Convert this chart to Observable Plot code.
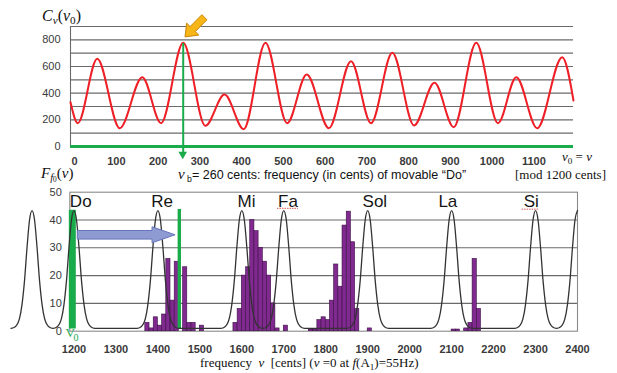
<!DOCTYPE html>
<html><head><meta charset="utf-8">
<script src="https://cdn.jsdelivr.net/npm/d3@7"></script>
<script src="https://cdn.jsdelivr.net/npm/@observablehq/plot@0.6"></script>
<style>
body{margin:0;background:#fff;}
#wrap{position:relative;width:617px;height:373px;overflow:hidden;font-family:"Liberation Sans",Arial,sans-serif;color:#111;}
#wrap svg{position:absolute;left:0;overflow:visible;}
.lbl{position:absolute;white-space:nowrap;line-height:1;}
.math{font-family:"Liberation Serif","Times New Roman",serif;}
sub{font-size:70%;vertical-align:-0.3em;line-height:0;}
sub sub{vertical-align:-0.1em;}
svg g[aria-label^="x-axis"] text{font-weight:bold;}
</style></head><body><div id="wrap"></div>
<script>
// ---------- data ----------
const nuB = 260;
// top panel: C_nu(nu0) curve, extrema
const topCents = [-10, 7.5, 54, 108, 162, 207, 260, 313, 359, 405, 457, 509, 556, 609, 662, 710, 761, 813, 862, 908, 962, 1014, 1058, 1108, 1168, 1195];
const topValues = [332, 175, 658, 137, 520, 175, 778, 155, 390, 130, 778, 175, 540, 137, 640, 175, 703, 158, 478, 145, 778, 175, 520, 137, 670, 345];
const topXTicks = [0, 100, 200, 300, 400, 500, 600, 700, 800, 900, 1000, 1100];
const topYTicks = [0, 200, 400, 600, 800];
const topGrid = [100, 200, 300, 400, 500, 600, 700, 800, 900];

// bottom panel: scale-degree template peaks
const peakCents = [1100, 1200, 1400, 1600, 1700, 1900, 2100, 2300, 2400];
const profileOffset = [-50, -40, -30, -24, -18, -12, -6, 0, 6, 12, 18, 24, 30, 40, 50];
const profileValue = [1, 1.6, 4.5, 9.5, 18, 30, 40, 43.4, 40, 30, 18, 9.5, 4.5, 1.6, 1];
const noteNames = ["Do", "Re", "Mi", "Fa", "Sol", "La", "Si"];
const noteLabelCents = [1216, 1410, 1611, 1710, 1917, 2091, 2290];

// histogram of f0 (10-cent bins)
const binStart = [1370, 1380, 1390, 1400, 1410, 1420, 1430, 1440, 1460, 1470, 1480, 1500,
  1580, 1590, 1600, 1610, 1620, 1630, 1640, 1650, 1660, 1670, 1680, 1700,
  1760, 1770, 1780, 1790, 1800, 1810, 1820, 1830, 1840, 1850, 1860, 1870, 1900,
  2100, 2110, 2130, 2140, 2150, 2160];
const binCount = [3, 1, 5, 2, 6, 26, 11, 25, 23, 3, 3, 2,
  3, 8, 20, 23, 40, 36, 30, 25, 20, 10, 1, 2,
  0.6, 0.6, 4, 5, 4, 11, 24, 16, 38, 43, 32, 8, 1,
  0.6, 0.6, 1, 3, 26, 8];
const greenLines = [1196, 1451];
const botXTicks = [1200, 1300, 1400, 1500, 1600, 1700, 1800, 1900, 2000, 2100, 2200, 2300, 2400];
const botYTicks = [0, 10, 20, 30, 40, 50];
const botGrid = [10, 20, 30, 40];

// ---------- build ----------
const green = "#1aab4b";
const wrap = document.getElementById("wrap");

function blockArrow(x0, y0, x1, y1, sw, hw, hl) {
  const dx = x1 - x0, dy = y1 - y0, L = Math.hypot(dx, dy), ux = dx / L, uy = dy / L, nx = -uy, ny = ux;
  const bx = x1 - ux * hl, by = y1 - uy * hl;
  return [[x0 + nx * sw, y0 + ny * sw], [bx + nx * sw, by + ny * sw], [bx + nx * hw, by + ny * hw], [x1, y1],
    [bx - nx * hw, by - ny * hw], [bx - nx * sw, by - ny * sw], [x0 - nx * sw, y0 - ny * sw]]
    .map(p => p.join(",")).join(" ");
}

const topCurve = topCents.map((c, i) => ({c, v: topValues[i]}));

const topPlot = Plot.plot({
  width: 617, height: 172,
  marginLeft: 70, marginRight: 44, marginTop: 26, marginBottom: 26,
  style: {fontFamily: "'Liberation Sans', Arial, sans-serif", fontSize: "11px", color: "#3a3a3a", background: "transparent"},
  x: {domain: [-10, 1195], ticks: topXTicks, tickSize: 0, tickPadding: 11, tickFormat: "d", label: null},
  y: {domain: [0, 900], ticks: topYTicks, tickSize: 0, tickPadding: 10, tickFormat: "d", label: null},
  marks: [
    Plot.ruleY(topGrid, {stroke: "#6a6a6a", strokeWidth: 1.1}),
    Plot.ruleX([-10], {y1: 0, y2: 900, stroke: "#6a6a6a", strokeWidth: 1.1}),
    Plot.ruleY([0], {stroke: green, strokeWidth: 3}),
    Plot.line(topCurve, {x: "c", y: "v", curve: "monotone-x", stroke: "#ee1f26", strokeWidth: 2}),
    Plot.ruleX([nuB], {y1: 773, y2: -45, stroke: green, strokeWidth: 2}),
    (index, s) => {
      const g = d3.create("svg:g");
      const x = s.x(nuB);
      g.append("polygon").attr("points", [[x - 4.3, s.y(-43)], [x + 4.3, s.y(-43)], [x, s.y(-100)]].map(p => p.join(",")).join(" ")).attr("fill", green);
      g.append("polygon").attr("points", blockArrow(s.x(312), s.y(966), s.x(265.5), s.y(818), 3.6, 8.5, 11))
        .attr("fill", "#f7b617").attr("stroke", "#c98608").attr("stroke-width", 1).attr("stroke-linejoin", "round");
      return g.node();
    }
  ]
});
topPlot.style.top = "0px";
wrap.appendChild(topPlot);

// template curve table built from peak list and profile
const curveMap = new Map();
for (const p of peakCents) {
  profileOffset.forEach((o, i) => {
    const c = p + o;
    if (c > 2400) return;
    curveMap.set(c, Math.max(curveMap.get(c) || 0, profileValue[i]));
  });
}
const template = Array.from(curveMap, ([c, v]) => ({c, v})).sort((a, b) => a.c - b.c);
const bins = binStart.map((b, i) => ({x1: b, x2: b + 10, y: binCount[i]}));
const notes = noteNames.map((n, i) => ({n, c: noteLabelCents[i]}));

const botPlot = Plot.plot({
  width: 617, height: 180,
  marginLeft: 69.3, marginRight: 40, marginTop: 11.7, marginBottom: 29.3,
  style: {fontFamily: "'Liberation Sans', Arial, sans-serif", fontSize: "11px", color: "#3a3a3a", background: "transparent"},
  x: {domain: [1190, 2400], ticks: botXTicks, tickSize: 0, tickPadding: 14, tickFormat: "d", label: null},
  y: {domain: [0, 50], ticks: botYTicks, tickSize: 0, tickPadding: 8, tickFormat: "d", label: null},
  marks: [
    Plot.ruleY(botGrid, {stroke: "#6a6a6a", strokeWidth: 1.1}),
    Plot.frame({stroke: "#8a8a8a", strokeWidth: 1.1}),
    Plot.rectY(bins, {x1: "x1", x2: "x2", y: "y", fill: "#80298f", stroke: "#3c1046", strokeWidth: 0.6}),
    Plot.ruleX([greenLines[0]], {y1: 0.8, y2: 43.5, stroke: green, strokeWidth: 7}),
    Plot.ruleX([greenLines[1]], {y1: 0.8, y2: 43.8, stroke: green, strokeWidth: 3.4}),
    Plot.line(template, {x: "c", y: "v", curve: "monotone-x", stroke: "#333", strokeWidth: 1.3}),
    (index, s) => {
      const g = d3.create("svg:g");
      g.append("polygon").attr("points", blockArrow(s.x(1209), s.y(34.5), s.x(1442), s.y(34.5), 4.3, 8, 23))
        .attr("fill", "#8e9ad2").attr("stroke", "#6574bb").attr("stroke-width", 1);
      return g.node();
    },
    Plot.text(notes, {x: "c", y: 46.7, text: "n", fontSize: 17, fill: "#151515", fontFamily: "'Liberation Sans', Arial, sans-serif"}),
    Plot.ruleY([44.2], {x1: 1685, x2: 1735, stroke: "#e25555", strokeWidth: 1, strokeDasharray: "1.5,1"}),
    Plot.ruleY([43.9], {x1: 2268, x2: 2308, stroke: "#e25555", strokeWidth: 1, strokeDasharray: "1.5,1"}),
    Plot.text(["V"], {x: 1191, y: -0.6, fontSize: 13, fill: green, fontFamily: "'Liberation Serif', serif"}),
    Plot.text(["0"], {x: 1205, y: -2.3, fontSize: 10, fill: green, fontFamily: "'Liberation Serif', serif"})
  ]
});
botPlot.style.top = "180px";
wrap.appendChild(botPlot);

// ---------- text ----------
function addLabel(html, left, top, size, cls) {
  const d = document.createElement("div");
  d.className = "lbl" + (cls ? " " + cls : "");
  d.style.left = left + "px"; d.style.top = top + "px"; d.style.fontSize = size + "px";
  d.innerHTML = html;
  wrap.appendChild(d);
}
addLabel("<i>C</i><sub><i>ν</i></sub>(<i>ν</i><sub>0</sub>)", 42, 8, 16, "math");
addLabel("<i>ν</i><sub>0</sub> = <i>ν</i>", 562, 150, 13, "math");
addLabel("<span class='math' style='font-size:15px'><i>ν</i></span><sub>&nbsp;b</sub>= 260 cents: frequency (in cents) of movable “Do”", 178, 167, 12.5, "");
addLabel("[mod 1200 cents]", 515, 168, 13, "math");
addLabel("<i>F</i><sub><i>f</i><sub>0</sub></sub>(<i>ν</i>)", 41, 166, 15, "math");
addLabel("frequency&nbsp;&nbsp;<i>ν</i>&nbsp;&nbsp;[cents] (<i>ν</i> =0 at <i>f</i>(A<sub>1</sub>)=55Hz)", 200, 356, 13, "math");
</script></body></html>
